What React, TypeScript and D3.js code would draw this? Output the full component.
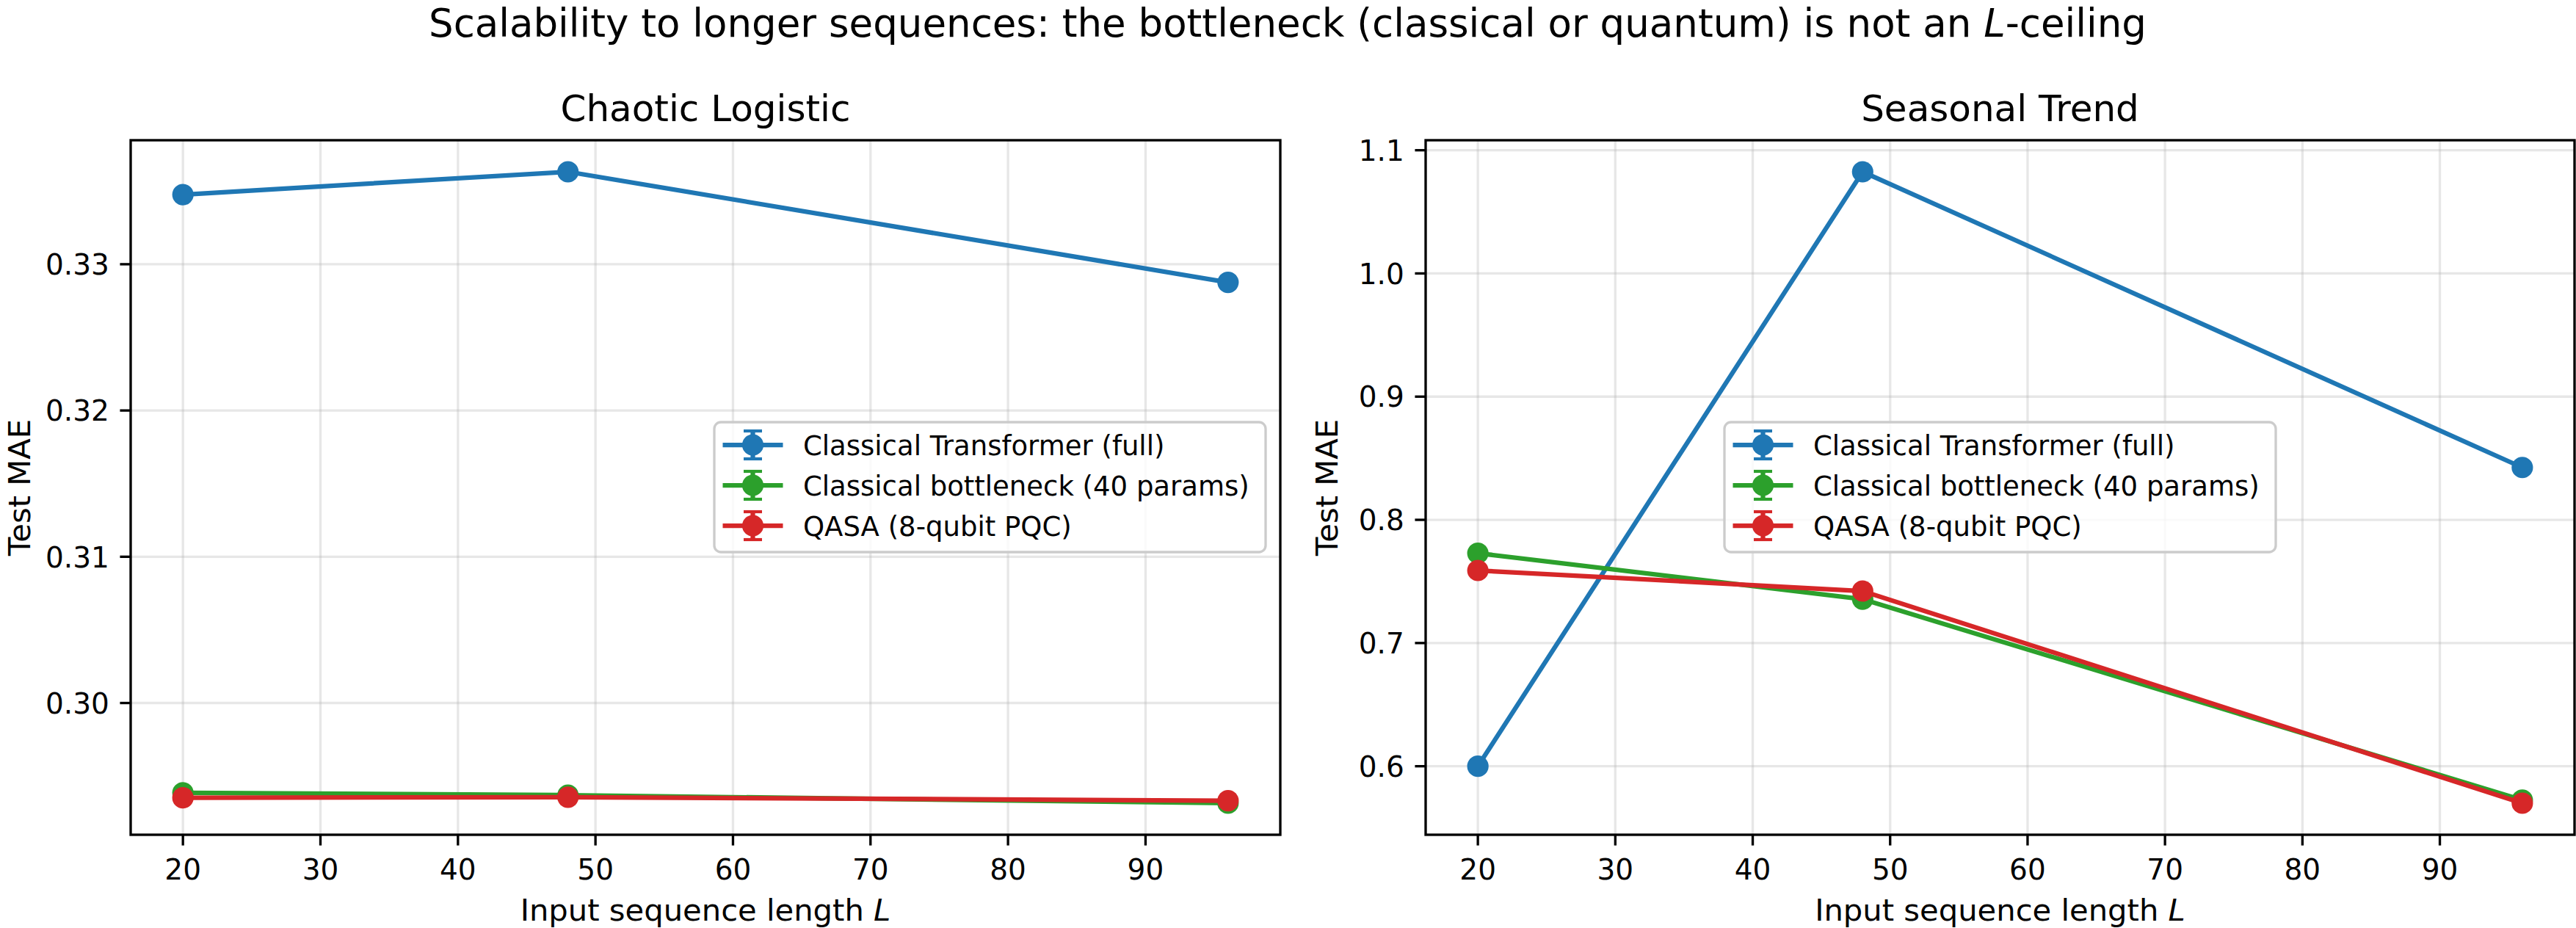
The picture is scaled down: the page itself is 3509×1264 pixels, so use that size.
import * as d3 from 'd3';

// Input sequence lengths swept in the experiment
const seqLen = [20, 48, 96];

// Test MAE, Chaotic Logistic
const chaoticTransformer = [0.33476, 0.33632, 0.32876];
const chaoticBottleneck = [0.29386, 0.2937, 0.29315];
const chaoticQasa = [0.29352, 0.29356, 0.29332];

// Test MAE, Seasonal Trend
const seasonalTransformer = [0.6, 1.0825, 0.8425];
const seasonalBottleneck = [0.7729, 0.7356, 0.5725];
const seasonalQasa = [0.7589, 0.7422, 0.57];

const seriesNames = ['Classical Transformer (full)', 'Classical bottleneck (40 params)', 'QASA (8-qubit PQC)'];
const seriesColors = ['#1f77b4', '#2ca02c', '#d62728'];

const xTicks = [20, 30, 40, 50, 60, 70, 80, 90];
const chaoticYTicks = [0.3, 0.31, 0.32, 0.33];
const seasonalYTicks = [0.6, 0.7, 0.8, 0.9, 1.0, 1.1];

const W = 3509;
const H = 1264;
const FONT = "'DejaVu Sans', 'Liberation Sans', sans-serif";
const PT = 300 / 72; // px per point at 300 dpi

const TICK_FS = 39;
const LABEL_FS = 41.7;
const TITLE_FS = 50;
const LEGEND_FS = 37;

interface Box { left: number; top: number; right: number; bottom: number; }

interface PanelProps {
  title: string;
  series: number[][];
  yTicks: number[];
  yFormat: (v: number) => string;
  box: Box;
  ylabelX: number;
  legendX: number;
  legendY: number;
}

// matplotlib-style 5% margin around the data range
function padded(ext: [number, number]): [number, number] {
  const m = (ext[1] - ext[0]) * 0.05;
  return [ext[0] - m, ext[1] + m];
}

function Legend({ x, y }: { x: number; y: number }) {
  const rows = [31, 86, 141];
  return (
    <g transform={`translate(${x},${y})`}>
      <rect x={0} y={0} width={751} height={177} rx={9} fill="#ffffff" fillOpacity={0.8}
        stroke="#cccccc" strokeWidth={0.8 * PT} />
      {seriesNames.map((name, i) => {
        const ry = rows[i];
        const c = seriesColors[i];
        return (
          <g key={name}>
            <line x1={11.5} x2={93.5} y1={ry} y2={ry} stroke={c} strokeWidth={1.5 * PT} />
            <line x1={52.5} x2={52.5} y1={ry - 19} y2={ry + 19} stroke={c} strokeWidth={1.5 * PT} />
            <line x1={40} x2={65} y1={ry - 19} y2={ry - 19} stroke={c} strokeWidth={PT} />
            <line x1={40} x2={65} y1={ry + 19} y2={ry + 19} stroke={c} strokeWidth={PT} />
            <circle cx={52.5} cy={ry} r={3.5 * PT} fill={c} />
            <text x={121} y={ry + 0.365 * LEGEND_FS} fontSize={LEGEND_FS} fontFamily={FONT} fill="#000">
              {name}
            </text>
          </g>
        );
      })}
    </g>
  );
}

function Panel({ title, series, yTicks, yFormat, box, ylabelX, legendX, legendY }: PanelProps) {
  const x = d3.scaleLinear()
    .domain(padded(d3.extent(seqLen) as [number, number]))
    .range([box.left, box.right]);
  const y = d3.scaleLinear()
    .domain(padded(d3.extent(series.flat()) as [number, number]))
    .range([box.bottom, box.top]);

  const line = d3.line<number>()
    .x((_, i) => x(seqLen[i]))
    .y((d) => y(d));

  const tickLen = 3.5 * PT;
  const spineW = 0.8 * PT;
  const cx = (box.left + box.right) / 2;
  const cy = (box.top + box.bottom) / 2;

  return (
    <g>
      {/* grid */}
      {xTicks.map((t) => (
        <line key={`gx${t}`} x1={x(t)} x2={x(t)} y1={box.top} y2={box.bottom}
          stroke="#b0b0b0" strokeOpacity={0.3} strokeWidth={0.8 * PT} />
      ))}
      {yTicks.map((t) => (
        <line key={`gy${t}`} x1={box.left} x2={box.right} y1={y(t)} y2={y(t)}
          stroke="#b0b0b0" strokeOpacity={0.3} strokeWidth={0.8 * PT} />
      ))}

      {/* series */}
      {series.map((vals, i) => (
        <g key={seriesNames[i]}>
          <path d={line(vals) ?? ''} fill="none" stroke={seriesColors[i]} strokeWidth={1.5 * PT}
            strokeLinejoin="round" />
          {vals.map((v, j) => (
            <circle key={j} cx={x(seqLen[j])} cy={y(v)} r={3.5 * PT} fill={seriesColors[i]} />
          ))}
        </g>
      ))}

      {/* spines */}
      <rect x={box.left} y={box.top} width={box.right - box.left} height={box.bottom - box.top}
        fill="none" stroke="#000" strokeWidth={spineW} />

      {/* x ticks */}
      {xTicks.map((t) => (
        <g key={`tx${t}`}>
          <line x1={x(t)} x2={x(t)} y1={box.bottom} y2={box.bottom + tickLen} stroke="#000" strokeWidth={spineW} />
          <text x={x(t)} y={box.bottom + 61} textAnchor="middle" fontSize={TICK_FS} fontFamily={FONT}>
            {t}
          </text>
        </g>
      ))}

      {/* y ticks */}
      {yTicks.map((t) => (
        <g key={`ty${t}`}>
          <line x1={box.left - tickLen} x2={box.left} y1={y(t)} y2={y(t)} stroke="#000" strokeWidth={spineW} />
          <text x={box.left - tickLen - 14.6} y={y(t) + 0.365 * TICK_FS} textAnchor="end"
            fontSize={TICK_FS} fontFamily={FONT}>
            {yFormat(t)}
          </text>
        </g>
      ))}

      {/* labels and title */}
      <text x={cx} y={1254} textAnchor="middle" fontSize={LABEL_FS} fontFamily={FONT}>
        Input sequence length <tspan fontStyle="italic">L</tspan>
      </text>
      <text transform={`translate(${ylabelX},${cy}) rotate(-90)`} textAnchor="middle"
        fontSize={LABEL_FS} fontFamily={FONT}>
        Test MAE
      </text>
      <text x={cx} y={165} textAnchor="middle" fontSize={TITLE_FS} fontFamily={FONT}>
        {title}
      </text>

      <Legend x={legendX} y={legendY} />
    </g>
  );
}

export default function App() {
  const fmt2 = d3.format('.2f');
  const fmt1 = d3.format('.1f');
  return (
    <div>
      <style>{'body{margin:0}'}</style>
      <svg width={W} height={H} viewBox={`0 0 ${W} ${H}`} style={{ display: 'block', background: '#fff' }}>
        <rect width={W} height={H} fill="#fff" />
        <text x={1754} y={50} textAnchor="middle" fontSize={53} fontFamily={FONT}>
          Scalability to longer sequences: the bottleneck (classical or quantum) is not an{' '}
          <tspan fontStyle="italic">L</tspan>-ceiling
        </text>
        <Panel
          title="Chaotic Logistic"
          series={[chaoticTransformer, chaoticBottleneck, chaoticQasa]}
          yTicks={chaoticYTicks}
          yFormat={fmt2}
          box={{ left: 178, top: 191, right: 1744, bottom: 1137 }}
          ylabelX={41}
          legendX={973}
          legendY={575}
        />
        <Panel
          title="Seasonal Trend"
          series={[seasonalTransformer, seasonalBottleneck, seasonalQasa]}
          yTicks={seasonalYTicks}
          yFormat={fmt1}
          box={{ left: 1942, top: 191, right: 3507, bottom: 1137 }}
          ylabelX={1822}
          legendX={2349}
          legendY={575}
        />
      </svg>
    </div>
  );
}
